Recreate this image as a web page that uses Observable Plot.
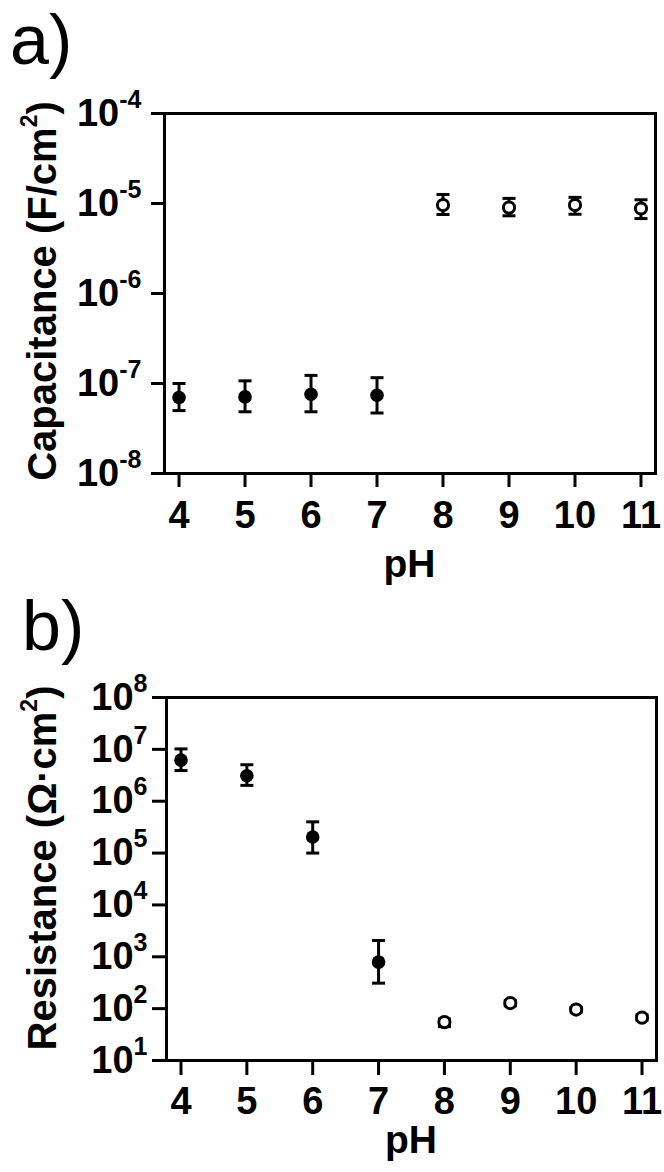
<!DOCTYPE html>
<html><head><meta charset="utf-8">
<script src="https://cdn.jsdelivr.net/npm/d3@7"></script>
<script src="https://cdn.jsdelivr.net/npm/@observablehq/plot@0.6"></script>
<style>
body{margin:0;background:#fff;overflow:hidden;}
#chart svg{display:block;overflow:visible;}
</style></head><body><div id="chart"></div>
<script>
// ---- data ----
const pH = [4, 5, 6, 7, 8, 9, 10, 11];
const filled = [true, true, true, true, false, false, false, false];
const capMean = [7.0e-8, 7.1e-8, 7.6e-8, 7.4e-8, 9.6e-6, 9.0e-6, 9.6e-6, 8.8e-6];
const capLow  = [5.0e-8, 4.85e-8, 4.85e-8, 4.7e-8, 7.55e-6, 7.3e-6, 7.6e-6, 6.8e-6];
const capHigh = [1.0e-7, 1.07e-7, 1.23e-7, 1.16e-7, 1.26e-5, 1.14e-5, 1.17e-5, 1.1e-5];
const resMean = [6.2e6, 3.1e6, 2.04e5, 7.9e2, 55, 128, 96, 67];
const resLow  = [3.9e6, 2.02e6, 1.0e5, 3.1e2, 45, 113, 86, 60];
const resHigh = [1.02e7, 5.05e6, 4.0e5, 2.06e3, 63, 143, 106, 76];
const capTicks = [1e-8, 1e-7, 1e-6, 1e-5, 1e-4];
const resTicks = [1e1, 1e2, 1e3, 1e4, 1e5, 1e6, 1e7, 1e8];
const xTicks = [4, 5, 6, 7, 8, 9, 10, 11];

const FONT = "'Liberation Sans', Arial, Helvetica, sans-serif";
const W = 664, H = 586;

const capSymbol = {draw(ctx) { ctx.moveTo(-6.5, 0); ctx.lineTo(6.5, 0); }};

function rows(mean, lo, hi) {
  return pH.map((x, i) => ({x, y: mean[i], lo: lo[i], hi: hi[i], filled: filled[i]}));
}

function panel(cfg) {
  const data = rows(cfg.mean, cfg.lo, cfg.hi);
  const svg = Plot.plot({
    width: W, height: H,
    marginLeft: cfg.ml, marginRight: cfg.mr, marginTop: cfg.mt, marginBottom: cfg.mb,
    style: {fontFamily: FONT, fontWeight: "bold", fontSize: "38px", background: "#fff", color: "#000", overflow: "visible"},
    x: {domain: [3.78, 11.22]},
    y: {type: "log", domain: cfg.yDomain},
    marks: [
      Plot.ruleX(data, {x: "x", y1: "lo", y2: "hi", stroke: "#000", strokeWidth: 3}),
      Plot.dot(data, {x: "x", y: "lo", symbol: capSymbol, r: 4, stroke: "#000", strokeWidth: 3, fill: "none"}),
      Plot.dot(data, {x: "x", y: "hi", symbol: capSymbol, r: 4, stroke: "#000", strokeWidth: 3, fill: "none"}),
      Plot.dot(data.filter(d => d.filled), {x: "x", y: "y", r: 6.8, fill: "#000", stroke: "none"}),
      Plot.dot(data.filter(d => !d.filled), {x: "x", y: "y", r: 5.6, fill: "#fff", stroke: "#000", strokeWidth: 3}),
      Plot.frame({stroke: "#000", strokeWidth: 3}),
      Plot.axisY(cfg.yTicks, {tickSize: cfg.yTickSize, tickPadding: cfg.yPad, strokeWidth: 3, label: null,
        tickFormat: d => "10^" + Math.round(Math.log10(d)), fontSize: 38, fontWeight: "bold"}),
      Plot.axisX(xTicks, {tickSize: cfg.xTickSize, tickPadding: cfg.xPad, strokeWidth: 3, label: null,
        tickFormat: d => String(d), fontSize: 38, fontWeight: "bold"})
    ]
  });
  const s = d3.select(svg);
  // superscript exponents in tick labels
  s.selectAll("text").each(function () {
    const t = this.textContent;
    if (t.indexOf("^") < 0) return;
    const [b, e] = t.split("^");
    this.textContent = "";
    const sel = d3.select(this);
    sel.append("tspan").text(b);
    sel.append("tspan").attr("dy", -18).attr("font-size", 25).text(e);
  });
  // panel letter
  s.append("text").attr("x", cfg.letterX).attr("y", cfg.letterY)
    .attr("text-anchor", "start")
    .attr("font-size", 70).attr("font-weight", "normal").attr("font-family", FONT)
    .text(cfg.letter);
  // y title
  const yt = s.append("text")
    .attr("transform", `translate(${cfg.ytX},${cfg.ytY}) rotate(-90)`)
    .attr("text-anchor", "middle").attr("font-size", 40).attr("font-weight", "bold").attr("font-family", FONT);
  yt.append("tspan").text(cfg.yTitle[0]);
  yt.append("tspan").attr("dy", -19).attr("font-size", 23).text(cfg.yTitle[1]);
  yt.append("tspan").attr("dy", 19).text(cfg.yTitle[2]);
  // x title
  s.append("text").attr("x", cfg.ml + (W - cfg.ml - cfg.mr) / 2).attr("y", cfg.xtY)
    .attr("text-anchor", "middle").attr("font-size", 39).attr("font-weight", "bold").attr("font-family", FONT)
    .text("pH");
  return svg;
}

const root = document.getElementById("chart");
root.appendChild(panel({
  mean: capMean, lo: capLow, hi: capHigh, yDomain: [1e-8, 1e-4], yTicks: capTicks,
  ml: 164, mr: 9, mt: 113, mb: 113, yTickSize: 13, yPad: 10, xTickSize: 14, xPad: 14,
  letter: "a)", letterX: 10, letterY: 64,
  yTitle: ["Capacitance (F/cm", "2", ")"], ytX: 56, ytY: 291, xtY: 577
}));
root.appendChild(panel({
  mean: resMean, lo: resLow, hi: resHigh, yDomain: [1e1, 1e8], yTicks: resTicks,
  ml: 166, mr: 8, mt: 111, mb: 112, yTickSize: 14, yPad: 5, xTickSize: 15, xPad: 12,
  letter: "b)", letterX: 22, letterY: 64,
  yTitle: ["Resistance (\u03A9\u00B7cm", "2", ")"], ytX: 56, ytY: 282, xtY: 567
}));
</script></body></html>
